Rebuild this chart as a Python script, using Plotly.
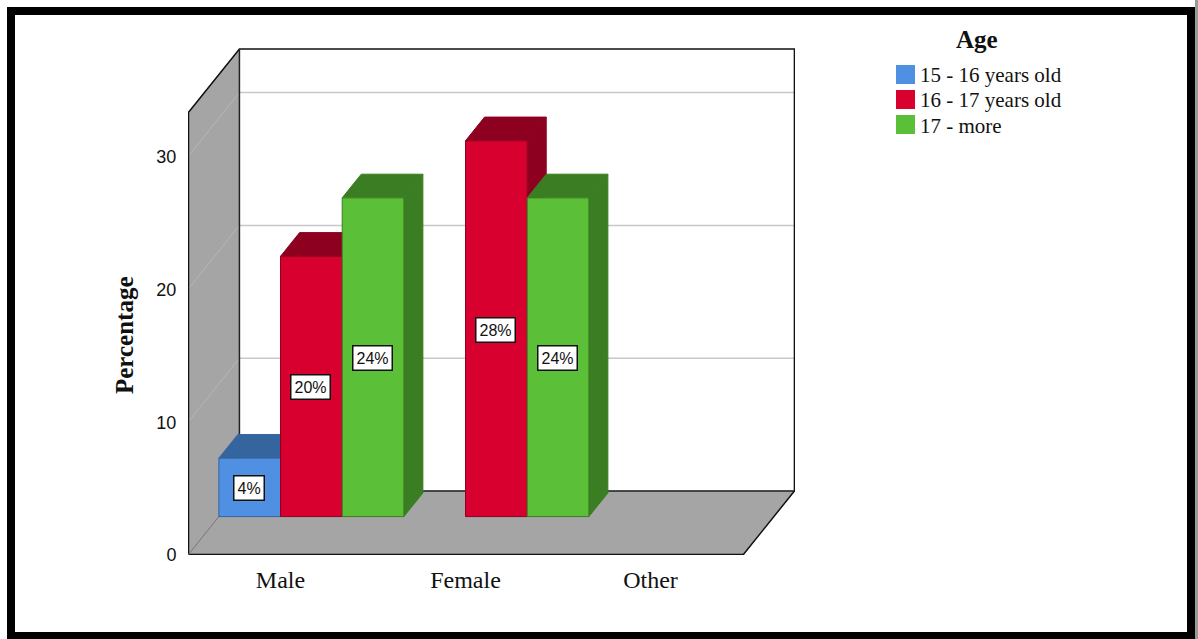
import plotly.graph_objects as go

categories = ["Male", "Female", "Other"]
series_names = ["15 - 16 years old", "16 - 17 years old", "17 - more"]
male_values = [4.4, 19.6, 24.0]
female_values = [None, 28.3, 24.0]
other_values = [None, None, None]
value_labels = [["4%", "20%", "24%"], [None, "28%", "24%"], [None, None, None]]
y_ticks = [0, 10, 20, 30]
front_colors = ["#4f90e3", "#d8002e", "#5cbf38"]
dark_colors = ["#35659f", "#8e0020", "#3b7d22"]

table = [male_values, female_values, other_values]
WALL = "#a5a5a5"
# depth projection in data units: one full depth of the box
DX, DY = 0.278, 4.82
BAR_FRONT, BAR_BACK = 0.60, 0.97
SLOT = 1 / 3
WALL_TOP = 442 / 13.28
X_MAX, Y_MAX = 607 / 185, 507 / 13.28
SERIF = "Liberation Serif"
SANS = "Liberation Sans"
INK = "#111111"

L, T, R, B = 188, 48, 795, 555
W, H = 1198, 639


def px(x):
    return (x - L) / (R - L)


def py(y):
    return (B - y) / (B - T)


def proj(x, v, d):
    return x + d * DX, v + d * DY


def poly(points, fill):
    xs = [p[0] for p in points] + [points[0][0]]
    ys = [p[1] for p in points] + [points[0][1]]
    return go.Scatter(x=xs, y=ys, mode="lines", fill="toself", fillcolor=fill,
                      line=dict(color=fill, width=1), hoverinfo="skip", showlegend=False)


def path(points, color, width):
    return go.Scatter(x=[p[0] for p in points], y=[p[1] for p in points], mode="lines",
                      line=dict(color=color, width=width), hoverinfo="skip", showlegend=False)


fig = go.Figure()
n = len(categories)
# box: left wall and floor
fig.add_trace(poly([proj(0, 0, 0), proj(0, 0, 1), proj(0, WALL_TOP, 1), proj(0, WALL_TOP, 0)], WALL))
fig.add_trace(poly([proj(0, 0, 0), proj(n, 0, 0), proj(n, 0, 1), proj(0, 0, 1)], WALL))
for t in y_ticks[1:]:
    fig.add_trace(path([proj(0, t, 1), proj(n, t, 1)], "#c8c8c8", 1.5))
    fig.add_trace(path([proj(0, t, 0), proj(0, t, 1)], "#b6b6b6", 1))
fig.add_trace(path([proj(0, WALL_TOP, 0), proj(0, WALL_TOP, 1), proj(n, WALL_TOP, 1),
                    proj(n, 0, 1), proj(n, 0, 0)], "#111111", 1.5))
fig.add_trace(path([proj(0, WALL_TOP, 1), proj(0, 0, 1), proj(n, 0, 1)], "#222222", 1.5))
fig.add_trace(path([proj(0, WALL_TOP, 0), proj(0, 0, 0), proj(n, 0, 0)], "#111111", 2.5))
fig.add_trace(path([proj(0, 0, 0), proj(0, 0, 1)], "#777777", 1))

# extruded sides and tops of the bars
for ci, row in enumerate(table):
    for si, v in enumerate(row):
        if v is None:
            continue
        left = ci + si * SLOT
        right = left + SLOT
        fig.add_trace(poly([proj(right, 0, BAR_FRONT), proj(right, 0, BAR_BACK),
                            proj(right, v, BAR_BACK), proj(right, v, BAR_FRONT)],
                           dark_colors[si]))
        fig.add_trace(poly([proj(left, v, BAR_FRONT), proj(left, v, BAR_BACK),
                            proj(right, v, BAR_BACK), proj(right, v, BAR_FRONT)],
                           dark_colors[si]))

# front faces, real bars on an overlaid subplot so they sit above the sides
annotations = []
for si, name in enumerate(series_names):
    xs, ys = [], []
    for ci, row in enumerate(table):
        if row[si] is None:
            continue
        cx, b = proj(ci + (si + 0.5) * SLOT, 0, BAR_FRONT)
        xs.append(cx)
        ys.append(row[si])
        annotations.append(dict(x=cx, y=b + row[si] / 2, xref="x", yref="y",
                                text=value_labels[ci][si], showarrow=False, yshift=-1, xshift=-1,
                                xanchor="center", yanchor="middle",
                                bgcolor="white", bordercolor=INK, borderwidth=1.5,
                                borderpad=3, font=dict(family=SANS, size=16, color=INK)))
    fig.add_trace(go.Bar(x=xs, y=ys, base=BAR_FRONT * DY, width=SLOT, xaxis="x2", yaxis="y2",
                         name=name, showlegend=False, hoverinfo="skip",
                         marker=dict(color=front_colors[si],
                                     line=dict(color=dark_colors[si], width=1))))

# frame
shapes = [
    dict(type="rect", xref="paper", yref="paper", layer="above",
         x0=px(1195), x1=px(W), y0=py(H), y1=py(0), fillcolor="#999999", line=dict(width=0)),
    dict(type="rect", xref="paper", yref="paper", layer="above",
         x0=px(11), x1=px(1191), y0=py(636), y1=py(11), line=dict(color="black", width=8)),
]

# legend keys and texts
LEGEND_ROWS = [74.5, 99.5, 124.5]
LEGEND_TEXT_ROWS = [75, 100, 126]
for i, name in enumerate(series_names):
    shapes.append(dict(type="rect", xref="paper", yref="paper",
                       x0=px(896), x1=px(915), y0=py(LEGEND_ROWS[i] + 9.5), y1=py(LEGEND_ROWS[i] - 9.5),
                       fillcolor=front_colors[i], line=dict(width=0)))
    annotations.append(dict(x=px(917.5), y=py(LEGEND_TEXT_ROWS[i]), xref="paper", yref="paper",
                            xanchor="left", yanchor="middle", text=name, showarrow=False,
                            font=dict(family=SERIF, size=21, color=INK)))
annotations.append(dict(x=px(976.5), y=py(40), xref="paper", yref="paper", text="<b>Age</b>",
                        xanchor="center", yanchor="middle",
                        showarrow=False, font=dict(family=SERIF, size=25, color=INK)))
annotations.append(dict(x=px(124), y=py(335), xref="paper", yref="paper", text="<b>Percentage</b>",
                        xanchor="center", yanchor="middle",
                        textangle=-90, showarrow=False, font=dict(family=SERIF, size=25, color=INK)))

fig.update_layout(
    width=W, height=H, margin=dict(l=L, r=W - R, t=T, b=H - B, autoexpand=False),
    paper_bgcolor="white", plot_bgcolor="rgba(0,0,0,0)", barmode="overlay",
    showlegend=False,
    xaxis=dict(range=[0, X_MAX], tickvals=[i + 0.5 for i in range(n)], ticktext=categories,
               ticks="", showgrid=False, zeroline=False, showline=False,
               tickfont=dict(family=SERIF, size=24, color=INK), ticklabelstandoff=8),
    yaxis=dict(range=[0, Y_MAX], tickvals=y_ticks, ticks="outside", ticklen=7, tickwidth=1,
               tickcolor="rgba(0,0,0,0)", showgrid=False, zeroline=False, showline=False,
               tickfont=dict(family=SANS, size=18, color=INK)),
    xaxis2=dict(range=[0, X_MAX], overlaying="x", visible=False),
    yaxis2=dict(range=[0, Y_MAX], overlaying="y", visible=False),
    annotations=annotations, shapes=shapes,
)
fig.write_html("out.html", post_script="document.body.style.margin='0';",
               config={"displayModeBar": False})
